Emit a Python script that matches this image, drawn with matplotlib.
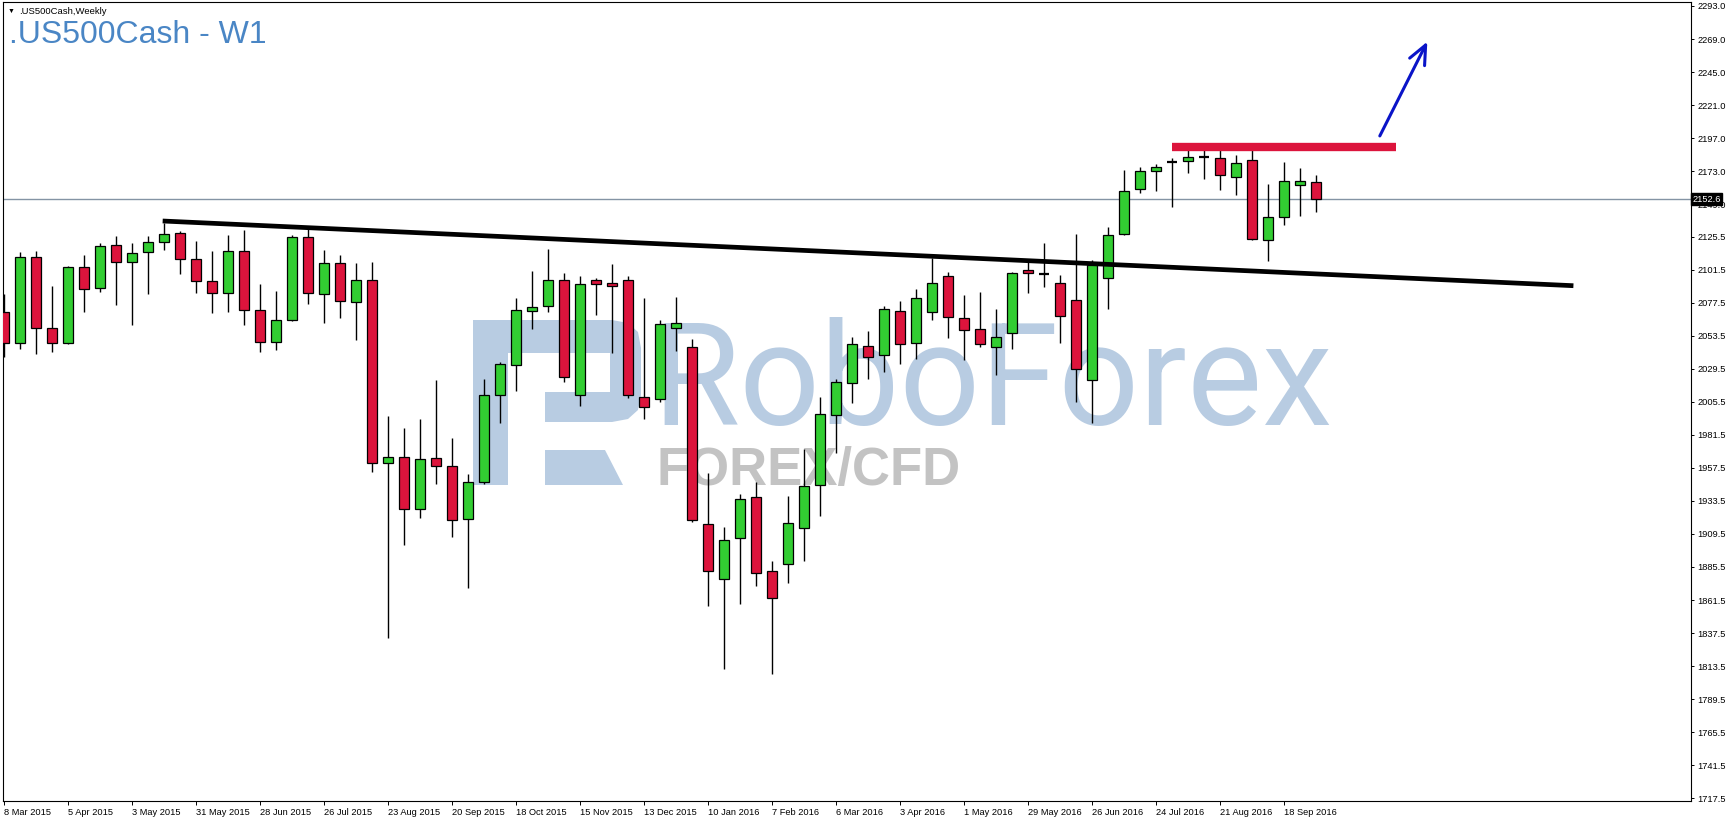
import matplotlib
matplotlib.use("Agg")
import matplotlib.pyplot as plt
import matplotlib.transforms as mtransforms
from matplotlib.patches import Polygon
import numpy as np

plt.rcParams['font.family'] = ['Liberation Sans', 'DejaVu Sans']

# weekly candles, 8 Mar 2015 .. 2 Oct 2016
opens = [2071.0, 2048.0, 2110.4, 2058.9, 2048.0, 2103.2, 2087.9, 2119.2, 2106.8, 2114.1,
         2121.3, 2127.9, 2109.0, 2093.0, 2084.3, 2114.8, 2072.0, 2048.7, 2064.7, 2125.0,
         2083.6, 2106.1, 2077.8, 2093.7, 1960.8, 1965.2, 1927.4, 1964.4, 1958.9, 1920.2,
         1947.0, 2010.2, 2032.0, 2071.2, 2074.9, 2093.7, 2010.2, 2093.7, 2091.6, 2093.7,
         2008.7, 2007.3, 2058.9, 2045.1, 1916.5, 1876.6, 1906.3, 1936.1, 1882.4, 1887.5,
         1913.6, 1944.8, 1995.7, 2018.9, 2045.8, 2039.3, 2071.2, 2048.0, 2070.5, 2096.6,
         2066.1, 2058.2, 2045.1, 2055.2, 2101.0, 2098.0, 2091.6, 2079.2, 2021.1, 2095.2,
         2127.1, 2159.8, 2172.9, 2179.7, 2180.2, 2183.3, 2182.4, 2168.6, 2180.9, 2122.8,
         2139.5, 2162.7, 2164.9]
highs = [2083.6, 2114.1, 2115.0, 2089.6, 2103.9, 2111.9, 2120.6, 2125.9, 2120.6, 2125.9,
         2135.1, 2129.3, 2122.1, 2114.8, 2126.4, 2130.3, 2090.8, 2085.7, 2126.4, 2131.5,
         2115.8, 2111.9, 2106.1, 2106.8, 1995.2, 1986.5, 1993.0, 2021.3, 1979.5, 1953.1,
         2022.1, 2034.4, 2080.9, 2100.8, 2116.5, 2099.1, 2096.9, 2095.4, 2105.6, 2096.9,
         2080.9, 2064.6, 2081.6, 2050.9, 1953.8, 1914.3, 1938.3, 1947.0, 1889.6, 1936.9,
         1971.0, 2008.7, 2021.8, 2052.3, 2056.7, 2074.9, 2078.5, 2087.5, 2109.7, 2099.6,
         2082.9, 2085.3, 2072.7, 2099.6, 2106.8, 2120.6, 2097.4, 2127.1, 2108.5, 2132.2,
         2173.6, 2175.8, 2178.0, 2182.4, 2188.2, 2193.2, 2193.2, 2184.5, 2189.6, 2163.5,
         2179.7, 2175.1, 2170.0]
lows = [2038.3, 2044.1, 2040.5, 2041.4, 2047.3, 2071.0, 2085.5, 2076.1, 2061.5, 2083.6,
        2115.5, 2098.1, 2084.8, 2069.8, 2070.5, 2061.5, 2041.9, 2042.9, 2064.2, 2076.3,
        2063.0, 2066.6, 2050.6, 1954.3, 1834.0, 1901.7, 1921.4, 1945.6, 1907.6, 1870.0,
        1946.0, 1989.9, 2013.6, 2058.1, 2070.5, 2020.1, 2002.7, 2068.3, 2041.2, 2008.0,
        1992.8, 2005.1, 2042.7, 1918.0, 1857.0, 1811.4, 1858.4, 1871.5, 1808.0, 1873.7,
        1889.6, 1922.3, 1968.1, 2004.4, 2021.8, 2027.4, 2032.7, 2036.4, 2064.7, 2051.6,
        2035.6, 2045.1, 2024.7, 2043.6, 2084.3, 2089.1, 2048.5, 2005.0, 1990.0, 2072.7,
        2126.4, 2156.9, 2158.4, 2146.8, 2171.5, 2167.1, 2159.1, 2155.5, 2122.8, 2107.6,
        2133.7, 2140.2, 2143.1]
closes = [2048.0, 2110.4, 2058.9, 2048.0, 2103.2, 2087.2, 2118.4, 2106.8, 2113.4, 2121.3,
          2127.1, 2109.0, 2093.0, 2084.3, 2114.8, 2072.0, 2048.7, 2064.7, 2125.0, 2084.3,
          2106.1, 2078.5, 2093.7, 1960.8, 1965.2, 1927.4, 1963.7, 1958.9, 1919.4, 1947.0,
          2010.2, 2032.7, 2071.9, 2074.1, 2093.7, 2023.3, 2090.8, 2090.8, 2089.4, 2010.2,
          2001.5, 2061.8, 2062.5, 1919.4, 1882.4, 1904.9, 1934.7, 1880.9, 1862.8, 1917.2,
          1944.1, 1996.4, 2019.7, 2047.2, 2037.8, 2072.7, 2047.3, 2080.7, 2091.6, 2066.9,
          2057.4, 2047.3, 2052.4, 2098.8, 2098.8, 2098.0, 2067.6, 2029.1, 2104.9, 2126.4,
          2158.4, 2172.9, 2175.8, 2179.7, 2183.1, 2183.3, 2170.0, 2178.7, 2123.5, 2139.5,
          2165.6, 2165.6, 2152.6]

week_labels = ["8 Mar 2015", "5 Apr 2015", "3 May 2015", "31 May 2015", "28 Jun 2015",
               "26 Jul 2015", "23 Aug 2015", "20 Sep 2015", "18 Oct 2015", "15 Nov 2015",
               "13 Dec 2015", "10 Jan 2016", "7 Feb 2016", "6 Mar 2016", "3 Apr 2016",
               "1 May 2016", "29 May 2016", "26 Jun 2016", "24 Jul 2016", "21 Aug 2016",
               "18 Sep 2016"]
price_ticks = [2293.0, 2269.0, 2245.0, 2221.0, 2197.0, 2173.0, 2149.0, 2125.5, 2101.5,
               2077.5, 2053.5, 2029.5, 2005.5, 1981.5, 1957.5, 1933.5, 1909.5, 1885.5,
               1861.5, 1837.5, 1813.5, 1789.5, 1765.5, 1741.5, 1717.5]

last_price = 2152.6
# drawn objects (bar index, price)
trend_x = [9.93, 98.1]
trend_y = [2136.8, 2089.8]
resist_x = [73.0, 87.0]
resist_y = 2190.2
arrow_start = (86.0, 2198.6)
arrow_end = (88.97, 2267.1)

W, H = 1730, 822
fig = plt.figure(figsize=(W / 100, H / 100), dpi=100)
fig.patch.set_facecolor('white')
ax = fig.add_axes([3.3 / W, 1 - 801 / H, (1690.7 - 3.3) / W, (801 - 1.7) / H])

o = np.array(opens)
c = np.array(closes)
x = np.arange(len(o))
up = c > o
dn = c < o
flat = c == o
bw = 0.62

ax.vlines(x, lows, highs, color='black', lw=1.0, zorder=2)
ax.bar(x[up], (c - o)[up], bottom=o[up], width=bw, color='#32CD32',
       edgecolor='black', linewidth=0.9, zorder=3)
ax.bar(x[dn], (o - c)[dn], bottom=c[dn], width=bw, color='#DC143C',
       edgecolor='black', linewidth=0.9, zorder=3)
ax.hlines(c[flat], x[flat] - bw / 2, x[flat] + bw / 2, color='black', lw=1.6, zorder=3)

ax.axhline(last_price, color='#8494A4', lw=1.0, zorder=1)

ax.plot(trend_x, trend_y, color='black', lw=3.4, solid_capstyle='butt', zorder=4)
ax.hlines(resist_y, resist_x[0], resist_x[1], color='#DC143C', lw=6, zorder=4)
ax.annotate('', xy=arrow_end, xytext=arrow_start,
            arrowprops=dict(arrowstyle='->,head_length=0.68,head_width=0.3',
                            color='#0A14C8', lw=2.2, mutation_scale=20,
                            shrinkA=0, shrinkB=0), zorder=4)

ax.set_xlim(-0.03, 105.43)
ax.set_ylim(1715.5, 2296.1)

ax.set_xticks(np.arange(len(week_labels)) * 4)
ax.set_xticklabels(week_labels, fontsize=6.7, ha='left')
ax.set_yticks(price_ticks)
ax.set_yticklabels(['%.1f' % v for v in price_ticks], fontsize=6.7)
ax.yaxis.tick_right()
ax.tick_params(axis='x', direction='out', length=2.9, width=0.7, pad=2)
ax.tick_params(axis='y', direction='out', length=2.2, width=0.7, pad=2.4)
for s in ax.spines.values():
    s.set_color('black')
    s.set_linewidth(0.8)

# current price box on the scale
tr = mtransforms.blended_transform_factory(ax.transAxes, ax.transData)
ax.text(1.0012, last_price, '%.1f' % last_price, transform=tr, ha='left', va='center',
        color='white', fontsize=6.7, zorder=6,
        bbox=dict(boxstyle='square,pad=0.15', fc='black', ec='black'))

# watermark (pixel coords of the figure)
def px(xp, yp):
    return (xp / W, 1 - yp / H)

wm_blue = '#B8CCE2'
logo = [
    [(473, 320), (473, 485), (508, 485), (508, 353), (545, 353), (545, 320)],
    [(545, 320), (612, 320), (628, 323), (638, 332), (641, 348), (641, 395),
     (638, 410), (628, 419), (612, 422), (545, 422), (545, 392), (610, 392),
     (610, 353), (545, 353)],
    [(545, 450), (605, 450), (623, 485), (545, 485)],
]
for pts in logo:
    ax.add_patch(Polygon([px(a, b) for a, b in pts], closed=True, facecolor=wm_blue,
                         edgecolor='none', transform=fig.transFigure, zorder=0))
ax.text(*px(652, 425), 'RoboForex', transform=fig.transFigure, fontsize=102,
        family='Roboto', color=wm_blue, ha='left', va='baseline', zorder=0)
ax.text(*px(656, 485), 'FOREX/CFD', transform=fig.transFigure, fontsize=38,
        fontweight='bold', color='#C3C3C3', ha='left', va='baseline', zorder=0)

# titles
fig.text(*px(8, 11), '\u25bc', fontsize=5, color='black', va='center', ha='left')
fig.text(*px(19, 11), '.US500Cash,Weekly', fontsize=6.8, color='black', va='center', ha='left')
fig.text(*px(9, 43.3), '.US500Cash - W1', fontsize=23, color='#4A86C5', va='baseline', ha='left')

fig.savefig('out.png', dpi=100)
